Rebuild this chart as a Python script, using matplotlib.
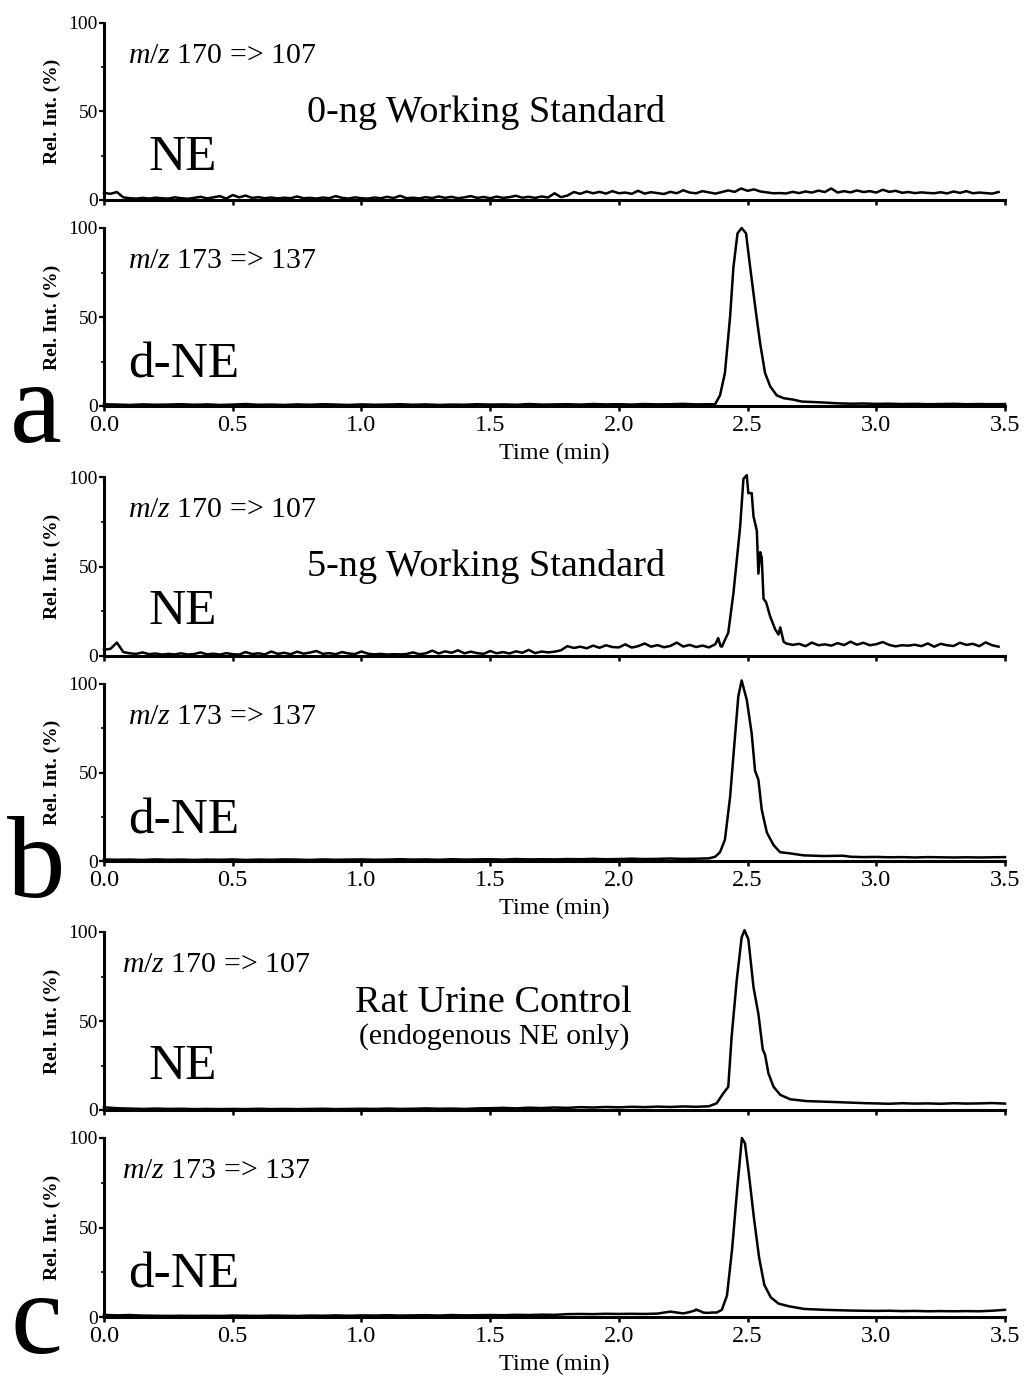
import numpy as np
import matplotlib
matplotlib.use('Agg')
import matplotlib.pyplot as plt

plt.rcParams['font.family'] = ['Liberation Serif', 'DejaVu Serif']
plt.rcParams['mathtext.fontset'] = 'custom'
plt.rcParams['mathtext.rm'] = 'Liberation Serif'
plt.rcParams['mathtext.it'] = 'Liberation Serif:italic'

# ---------------- data ----------------
x_ticks = [0.0, 0.5, 1.0, 1.5, 2.0, 2.5, 3.0, 3.5]
x_tick_labels = ["0.0", "0.5", "1.0", "1.5", "2.0", "2.5", "3.0", "3.5"]
y_ticks = [0, 50, 100]
y_tick_labels = ["0", "50", "100"]

# panel a, NE (m/z 170 => 107), 0-ng standard: baseline only, step 0.025 min
a_ne_vals = [4, 3.5, 4.5, 1.5, 1, 0.8, 1.2, 0.8, 1.3, 1,
             0.8, 1.5, 1, 0.7, 1.2, 1.8, 0.9, 1.5, 2.2, 0.8,
             2.8, 1.5, 2.5, 1.2, 1.6, 1, 1.4, 0.9, 1.3, 1,
             2, 1, 1.2, 0.8, 1.4, 1, 2.2, 1.2, 0.8, 1.5,
             1, 0.8, 1.4, 1, 1.8, 1.1, 2.4, 1, 1.3, 0.9,
             1.6, 1.1, 2, 1.2, 1.8, 1, 1.5, 2.2, 1.2, 1.7,
             1, 1.9, 1.2, 1.6, 2.4, 1.3, 1.8, 1.2, 2, 1.4,
             3.8, 1.6, 2.5, 4.5, 3.5, 4.8, 3.8, 4.6, 3.6, 5,
             3.8, 4.2, 3.5, 5.2, 3.6, 4.4, 3.9, 3.4, 4.6, 3.8,
             5.5, 4.2, 3.8, 5, 4.3, 3.6, 4.5, 5.4, 4.6, 6.5,
             5.2, 6, 4.8, 4.3, 3.8, 3.9, 3.7, 4.6, 3.9, 4.8,
             4.2, 5.3, 4.5, 6.5, 4.2, 5, 4.3, 5.4, 4.5, 5,
             4.2, 5.8, 4.6, 5.2, 4.1, 4.5, 3.9, 4.3, 4, 3.8,
             4.4, 3.7, 4.8, 4, 5, 3.8, 4.2, 3.9, 3.6, 4.5]

# panel a, d-NE (m/z 173 => 137)
a_dne_pre = [1.0, 0.8, 0.6, 0.9, 0.7, 0.8, 1.0, 0.7, 0.9, 0.6,
             0.8, 1.1, 0.7, 0.8, 0.6, 0.9, 0.7, 1.0, 0.8, 0.6,
             0.9, 0.7, 0.8, 1.0, 0.7, 0.9, 0.6, 0.8, 0.7, 1.0,
             0.8, 0.9, 0.7, 1.1, 0.8, 0.9, 1.0, 0.8, 1.1, 0.9,
             1.0, 0.8, 1.1, 0.9, 1.0, 1.2, 0.9, 1.0]
a_dne_peak_t = [2.374, 2.393, 2.412, 2.432, 2.445, 2.461, 2.477, 2.494, 2.510,
                2.533, 2.549, 2.568, 2.588, 2.613, 2.640, 2.680, 2.710, 2.790]
a_dne_peak_v = [1, 6, 18.5, 50, 78, 97, 100, 97, 78,
                52, 35, 18.5, 11, 6, 4.4, 3.5, 2.5, 2.0]
a_dne_post = [1.5, 1.3, 1.4, 1.2, 1.3, 1.1, 1.2, 1.0, 1.1, 1.2, 1.0, 1.1, 1.0, 1.1]

# panel b, NE, 5-ng standard
b_ne_pre = [3.5, 4, 7.5, 2.2, 1.5, 1.2, 2.0, 1.0, 1.4, 0.8,
            1.2, 0.9, 1.5, 0.8, 1.1, 2.0, 0.9, 1.3, 0.8, 1.6,
            1.0, 0.8, 2.2, 1.1, 1.5, 0.9, 2.5, 1.2, 1.8, 1.0,
            2.4, 1.3, 1.9, 2.8, 1.2, 1.6, 1.0, 2.2, 1.4, 1.1,
            2.5, 1.3, 0.9, 1.2, 0.8, 1.0, 0.9, 1.1, 2.0, 1.0,
            1.5, 3.0, 1.4, 2.6, 1.8, 3.2, 1.5, 2.4, 1.6, 1.2,
            2.8, 1.5, 2.2, 1.4, 2.6, 1.8, 3.4, 1.6, 2.5, 2.0,
            2.4, 3.2, 5.5, 4.5, 5.2, 4.3, 5.8, 4.6, 6.0, 5.0,
            4.8, 6.5, 4.7, 5.5, 7.0, 5.2, 6.1, 4.9, 5.6, 7.5,
            5.3, 6.2, 5.0, 5.8, 4.8, 6.6]
b_ne_peak_t = [2.386, 2.395, 2.400, 2.425, 2.445, 2.471, 2.484, 2.497, 2.503,
               2.516, 2.523, 2.536, 2.542, 2.549, 2.555, 2.562, 2.572, 2.588,
               2.607, 2.620, 2.627, 2.640]
b_ne_peak_v = [10, 5.5, 5.2, 13, 35, 72, 99, 101, 91,
               91, 78, 70, 46, 58, 55, 32, 30, 22,
               15, 12, 16, 8]
b_ne_post = [7.0, 6.2, 6.8, 5.5, 7.5, 6.0, 6.5, 5.8, 7.2, 6.1,
             8.0, 6.3, 7.4, 6.0, 6.6, 7.8, 6.2, 5.4, 6.0, 5.8,
             6.3, 5.5, 7.0, 5.2, 6.8, 6.0, 5.6, 7.4, 6.2, 6.8,
             5.5, 7.6, 6.0, 5.2]

# panel b, d-NE
b_dne_pre = [0.9, 0.7, 0.8, 0.6, 0.9, 0.7, 0.8, 0.6, 0.8, 0.7,
             0.9, 0.6, 0.8, 0.7, 0.9, 0.8, 0.6, 0.9, 0.7, 0.8,
             0.9, 0.7, 0.8, 1.0, 0.8, 0.9, 0.7, 1.0, 0.8, 0.9,
             1.0, 0.8, 1.1, 0.9, 1.0, 0.9, 1.1, 1.0, 1.2, 1.0,
             1.1, 1.3, 1.1, 1.2, 1.4, 1.2, 1.3, 1.5]
b_dne_peak_t = [2.374, 2.393, 2.412, 2.432, 2.447, 2.464, 2.477, 2.497, 2.516,
                2.529, 2.542, 2.555, 2.575, 2.601, 2.626, 2.665, 2.717, 2.795, 2.870]
b_dne_peak_v = [2.4, 5, 12, 36, 63, 93, 102, 91, 72,
                51, 46, 29, 16, 9, 5, 4.3, 3.2, 2.8, 3.0]
b_dne_post = [2.4, 2.2, 2.3, 2.1, 2.2, 2.0, 2.2, 2.1, 2.0, 2.1, 2.0, 2.1, 2.2]

# panel c, NE, rat urine control
c_ne_pre = [1.5, 1.0, 0.8, 0.6, 0.8, 0.6, 0.7, 0.5, 0.6, 0.5,
            0.6, 0.5, 0.7, 0.5, 0.6, 0.5, 0.6, 0.7, 0.5, 0.6,
            0.7, 0.6, 0.8, 0.6, 0.7, 0.9, 0.7, 0.8, 0.6, 0.9,
            1.0, 1.2, 0.9, 1.3, 1.1, 1.4, 1.2, 1.6, 1.4, 1.7,
            1.5, 1.8, 1.6, 1.9, 1.7, 2.0, 1.8, 2.1]
c_ne_peak_t = [2.380, 2.406, 2.425, 2.438, 2.458, 2.477, 2.488, 2.503, 2.523,
               2.542, 2.559, 2.568, 2.581, 2.601, 2.627, 2.666, 2.730, 2.834, 2.964]
c_ne_peak_v = [3.8, 9.4, 13, 41, 73, 97, 101, 96, 69,
               54, 34, 31, 20.6, 13, 8.5, 6, 5, 4.5, 3.8]
c_ne_post = [3.7, 3.5, 3.8, 3.6, 3.7, 3.5, 3.8, 3.6, 3.7, 3.9, 3.6]

# panel c, d-NE
c_dne_pre = [1.2, 0.9, 1.1, 0.8, 0.7, 0.6, 0.7, 0.6, 0.7, 0.6,
             0.8, 0.7, 0.6, 0.8, 0.7, 0.6, 0.8, 0.7, 0.9, 0.7,
             0.9, 0.8, 1.0, 0.8, 0.9, 1.0, 0.8, 1.1, 0.9, 1.0,
             1.1, 1.0, 1.2, 1.1, 1.3, 1.2, 1.6, 1.7, 1.6, 1.8,
             1.7, 1.8, 1.7, 1.9, 3.0, 2.0, 4.2, 2.3]
c_dne_extra_t = [2.27, 2.30, 2.33, 2.36]
c_dne_extra_v = [2.6, 3.8, 2.4, 2.5]
c_dne_peak_t = [2.380, 2.400, 2.420, 2.440, 2.460, 2.478, 2.490, 2.505, 2.525,
                2.545, 2.565, 2.590, 2.620, 2.660, 2.720, 2.800]
c_dne_peak_v = [2.5, 4, 12, 38, 72, 100, 97, 80, 55,
                33, 18, 11, 7.5, 6, 4.5, 4]
c_dne_post = [3.8, 3.6, 3.5, 3.4, 3.5, 3.3, 3.4, 3.2, 3.3, 3.2, 3.3, 3.2, 3.5, 4.0]

channel_labels = [r"$m/z$ 170 => 107", r"$m/z$ 173 => 137"]
compound_labels = ["NE", "d-NE"]
titles = ["0-ng Working Standard", "5-ng Working Standard", "Rat Urine Control"]
subtitle_c = "(endogenous NE only)"
panel_letters = ["a", "b", "c"]


def trace(pre, pre_step, peak_t, peak_v, post_start, post_step, post,
          extra_t=(), extra_v=()):
    tp = np.arange(len(pre)) * pre_step
    vp = np.asarray(pre, float)
    keep = tp < peak_t[0] - 1e-9
    tq = post_start + np.arange(len(post)) * post_step
    vq = np.asarray(post, float)
    keepq = tq > peak_t[-1] + 1e-9
    t = np.concatenate([tp[keep], np.asarray(extra_t, float), peak_t, tq[keepq]])
    v = np.concatenate([vp[keep], np.asarray(extra_v, float), peak_v, vq[keepq]])
    o = np.argsort(t, kind='stable')
    return t[o], v[o]


traces = [
    (np.arange(len(a_ne_vals)) * 0.025, np.asarray(a_ne_vals, float)),
    trace(a_dne_pre, 0.05, a_dne_peak_t, a_dne_peak_v, 2.85, 0.05, a_dne_post),
    trace(b_ne_pre, 0.025, b_ne_peak_t, b_ne_peak_v, 2.65, 0.025, b_ne_post),
    trace(b_dne_pre, 0.05, b_dne_peak_t, b_dne_peak_v, 2.90, 0.05, b_dne_post),
    trace(c_ne_pre, 0.05, c_ne_peak_t, c_ne_peak_v, 3.00, 0.05, c_ne_post),
    trace(c_dne_pre, 0.05, c_dne_peak_t, c_dne_peak_v, 2.85, 0.05, c_dne_post,
          c_dne_extra_t, c_dne_extra_v),
]

# ---------------- layout ----------------
W, H = 1032, 1377
fig = plt.figure(figsize=(W / 100, H / 100), dpi=100)
panel_px = [(23, 200), (228, 406), (477, 656), (684, 861), (932, 1110), (1138, 1317)]
X0, X1 = 104, 1005


def fx(px):
    return px / W


def fy(py):
    return 1 - py / H


axes = []
for i, (top, bot) in enumerate(panel_px):
    ax = fig.add_axes([fx(X0), fy(bot), fx(X1 - X0), (bot - top) / H])
    t, v = traces[i]
    ax.plot(t, v, color='black', lw=1.8, clip_on=False, solid_joinstyle='round')
    ax.set_xlim(0, 3.5)
    ax.set_ylim(0, 100)
    for s in ['top', 'right']:
        ax.spines[s].set_visible(False)
    for s in ['left', 'bottom']:
        ax.spines[s].set_linewidth(2.2)
    ax.set_xticks(x_ticks)
    ax.set_yticks(y_ticks)
    ax.set_yticklabels(y_tick_labels)
    ax.set_yticks([25, 75], minor=True)
    ax.tick_params(axis='y', which='major', direction='out', length=3.5, width=1.6,
                   pad=1, labelsize=14)
    ax.tick_params(axis='y', which='minor', direction='out', length=2.5, width=1.2)
    ax.tick_params(axis='x', which='major', direction='out', length=3.5, width=1.8,
                   pad=3, labelsize=17.5)
    if i % 2 == 1:
        ax.set_xticklabels(x_tick_labels)
        ax.set_xlabel("Time (min)", fontsize=17.5, labelpad=5)
    else:
        ax.set_xticklabels([])
    fig.text(fx(52), fy((top + bot) / 2), "Rel. Int. (%)", rotation=90,
             ha='center', va='center', fontsize=14, fontweight='bold')
    axes.append(ax)

# annotations
for g in range(3):
    top_ne = panel_px[2 * g][0]
    top_dne = panel_px[2 * g + 1][0]
    mzx = 128 if g < 2 else 122
    fig.text(fx(mzx), fy(top_ne + 40), channel_labels[0], fontsize=21.5, va='baseline')
    fig.text(fx(mzx), fy(top_dne + 40), channel_labels[1], fontsize=21.5, va='baseline')
    fig.text(fx(148), fy(top_ne + 147), compound_labels[0], fontsize=37, va='baseline')
    fig.text(fx(128), fy(top_dne + 149), compound_labels[1], fontsize=37, va='baseline')
    if g < 2:
        fig.text(fx(486), fy(top_ne + 99), titles[g], fontsize=27.5, ha='center',
                 va='baseline')
    else:
        fig.text(fx(493), fy(top_ne + 80), titles[g], fontsize=27.5, ha='center',
                 va='baseline')
        fig.text(fx(494), fy(top_ne + 112), subtitle_c, fontsize=21.5, ha='center',
                 va='baseline')
    bot_dne = panel_px[2 * g + 1][1]
    fig.text(fx(36), fy(bot_dne + 36), panel_letters[g], fontsize=84, ha='center',
             va='baseline')

fig.savefig("out.png", dpi=100, facecolor='white')
